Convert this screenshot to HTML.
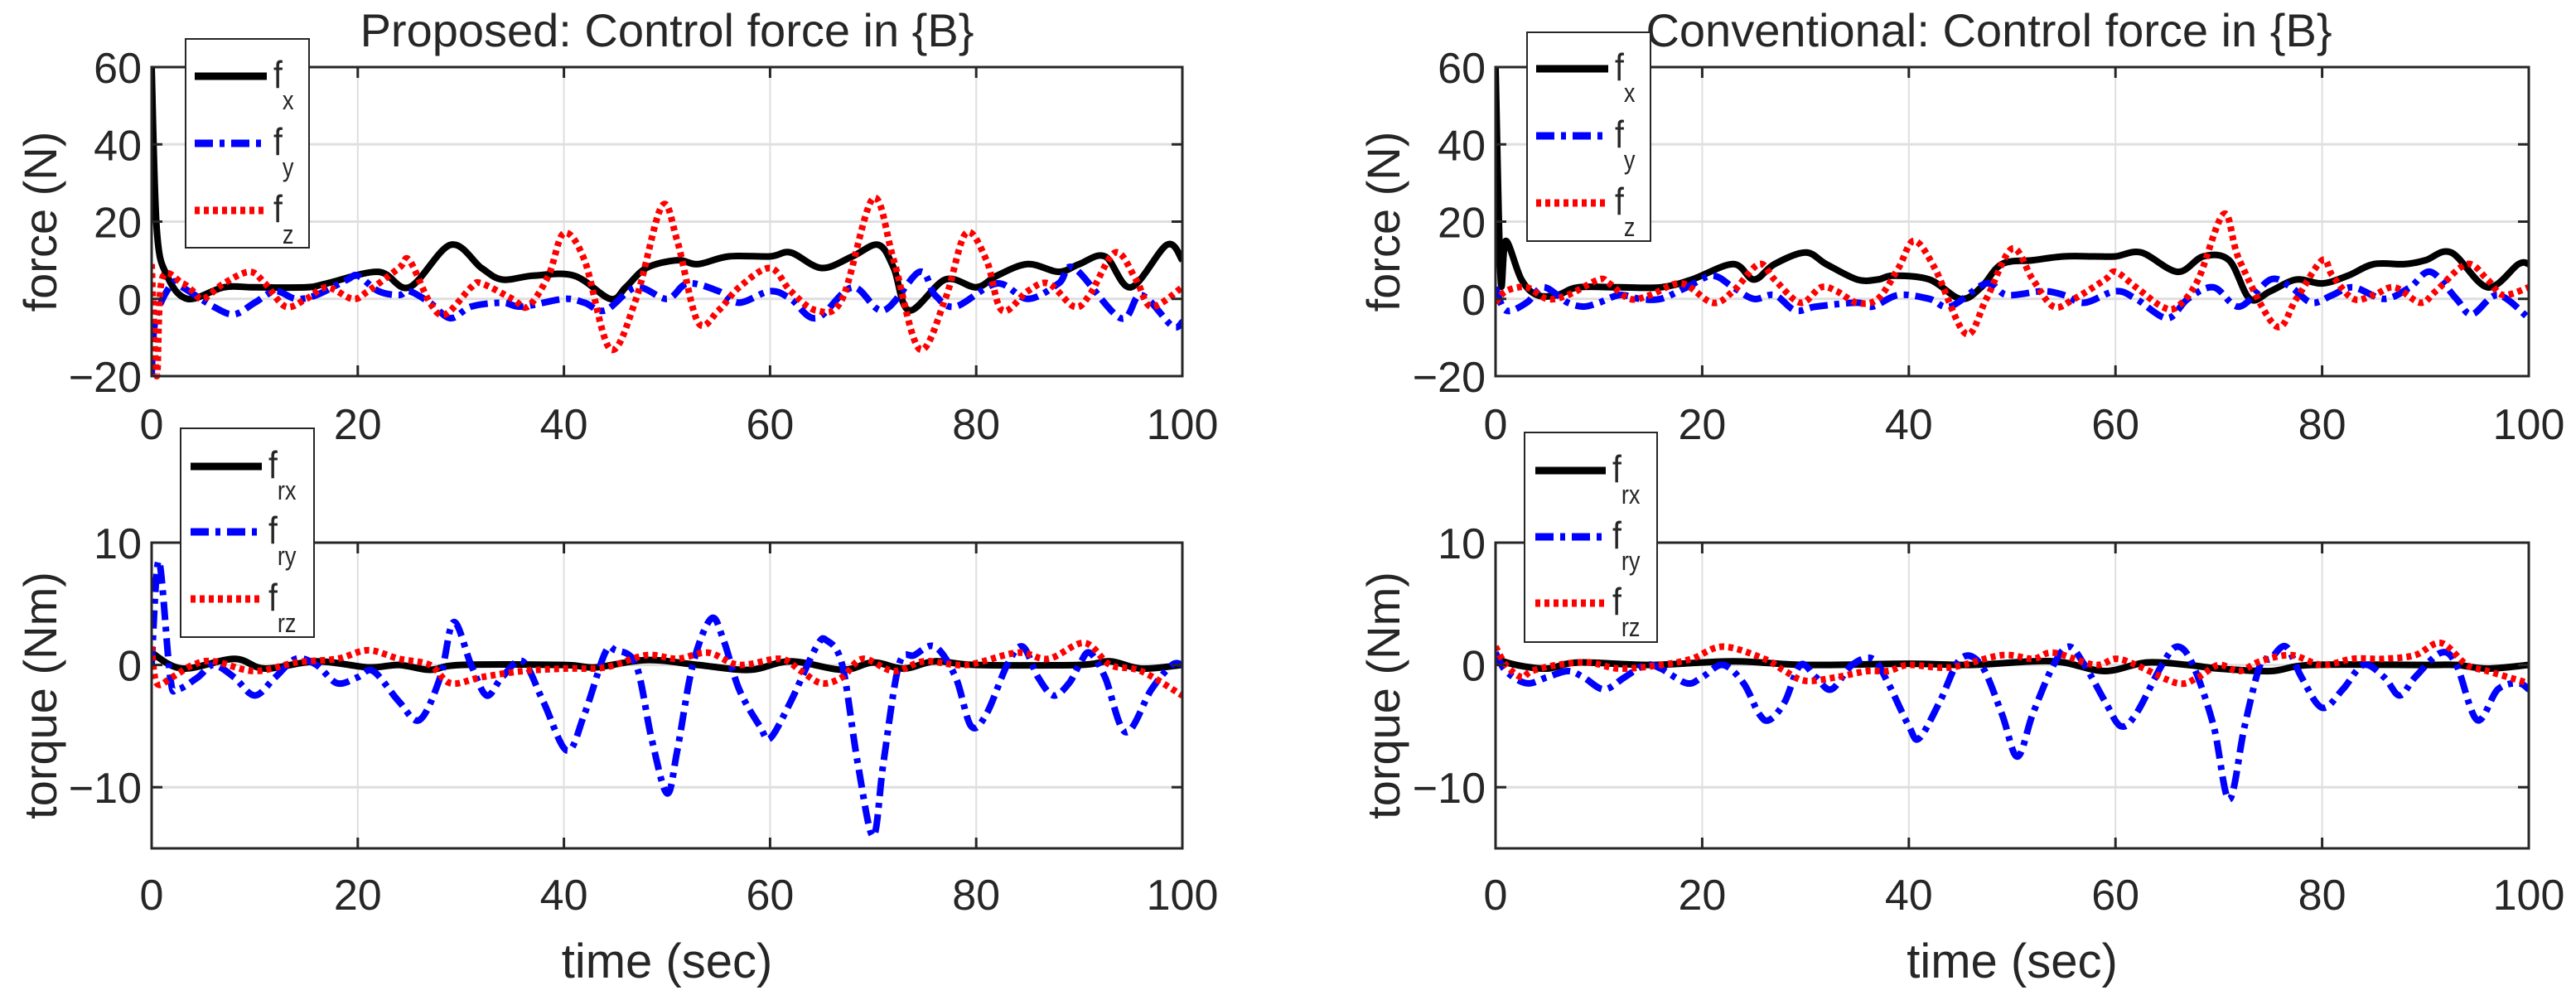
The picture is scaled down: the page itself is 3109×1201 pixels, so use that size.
<!DOCTYPE html>
<html><head><meta charset="utf-8"><style>
html,body{margin:0;padding:0;background:#fff;}
svg{display:block;}
text{font-family:"Liberation Sans",sans-serif;fill:#262626;}
</style></head><body>
<svg id="fig" width="3109" height="1201" viewBox="0 0 3109 1201" xmlns="http://www.w3.org/2000/svg"></svg>
<script>
// ---------- data (time in sec, value) ----------
const pFxT=[0,0.5,1.5,3.5,7,10,15,17,22,25,29,32,34,37,41,44.5,46,48,51,53,56,60,62,65,68,70.5,72,73.5,77,80,82,85,88,90,92.5,95,98.5,100];
const pFxV=[60,18,6,0,3,3,3,4,7,3,14,8,5,6,6,0,3,8,10,9,11,11,12,8,11,14,8,-3,5,3,6,9,7,9,11,3,14,10];
const pFyT=[0,0.4,2,3,6,8,10,12,14,16,19,20,22,24,25,27,29,31,34,36,40,42,44,47,50,52,55,57,60,62,64.5,68,71,74.5,76,78,82,85,88,89.5,94,96,99,100];
const pFyV=[-20,-5,4,3,-2,-4,-1,2,0,1,5,6,2,1,2,-1,-5,-2,-1,-2,0,-1,-3,3,0,4,2,-1,2,0,-5,3,-3,7,1,-2,4,0,4,8,-5,1,-7,-6];
const pFzT=[0,0.5,1,3,4,5,7,9.5,11,13,15,17,19.5,21,24,25,27,28.5,31,32,35,36.5,38.5,40,42,44.5,47,49.5,51,53,55,57,60,62,64.5,67,70,72,74.5,77,79,81,82.5,85,87,89.5,91,93.5,95.5,97,100];
const pFzV=[9,-20,5,4,2,0,4,7,4,-2,0,3,0,2,8,10,-1,-4,3,4,0,-2,6,17,10,-13,0,24,15,-6,-3,3,8,2,-3,0,26,10,-13,0,17,10,-3,2,4,-2,1,12,5,-2,3];
const pRxT=[0,3,8,11,16,21,24,27,30,40,43,48,53,58,62,67,70,73,76,80,90,93,96,100];
const pRxV=[1,-0.3,0.5,-0.3,0.3,-0.2,0,-0.4,0,0,-0.2,0.4,0,-0.4,0.3,-0.4,0.2,-0.3,0.3,0,0,0.3,-0.3,0];
const pRyT=[0,0.7,1.8,2.5,4.5,6,8,10,12,14,16,18,20,21.5,24,26,28,29.3,31,32.5,34,36,38,40.3,42,44,45,47,48.5,50,51,52.5,54.3,55.5,57,59,60,62,64.5,65.5,67,68.5,70,71,72.5,74,76,78,79.5,81,83,84.5,86,87.5,89,90,91,92.5,94.5,97,99,100];
const pRyV=[0,8.5,-1,-2,-1,0,-1,-2.5,-1,0.5,0,-1.5,-1,-0.5,-3,-4.5,-1,3.5,0,-2.5,-1,0.3,-3,-7,-4,1,1.2,0,-6,-10.5,-7,0,3.8,2,-2,-5,-6,-3,1.5,2,0,-8,-14,-8,0,0.8,1.5,-1,-5,-4,0,1.5,-1,-2.5,-1.5,0,1,-1,-5.5,-2,0,0];
const pRzT=[0,0.5,2,4,6,10,14,18,21,24,27,29,32,36,40,44,48,51,54,57,61,63,65,67,69,72,75,79,84,87,90.5,93,96,100];
const pRzV=[1.5,-1.5,-1,0,0.3,-0.5,0.2,0.5,1.2,0.5,0,-1.5,-1,-0.5,-0.3,-0.2,0.8,0.5,1,0,0.5,-0.5,-1.5,-1,0.5,-0.5,0.3,0,1,0.5,1.8,0,-0.5,-2.5];

const cFxT=[0,0.5,1,2.5,4,6,8,12,16,19,23,25,27,30,32,35,37,38.5,42,45,47,49,52,55,58,60,62.5,66,68.5,71,73,75,77.5,80,82.5,85,88,90,92.5,96,99,100];
const cFxV=[60,5,15,5,1,1,3,3,3,5,9,5,9,12,9,5,5,6,5,0,3,9,10,11,11,11,12,7,11,10,0,2,5,4,6,9,9,10,12,3,9,9];
const cFyT=[0,1,3,4.5,6,7,8.5,10,12,14,16,18.5,21,23,25,27,29,31,35,36.5,39,42,44,47.5,49.5,53,55,57,60,62,65,67,69.5,72,75,77,79,81,83,86,88.5,90.5,93,94.5,97,100];
const cFyV=[3,-3,-1,3,1,-1,-2,-1,1,0,0,3,6,3,0,1,-3,-2,-1,-2,1,0,-2,4,1,2,1,-1,2,0,-5,0,3,-2,5,3,-1,1,3,0,3,7,0,-4,1,-5];
const cFzT=[0,1,3,5,7,10,11,13,15,18,21,23,25.5,27,29.5,31.5,33,35,37,39,40.5,42.5,45.5,47.5,50,52,54,56,59,60,62,64.5,66,68,70.5,72,75.5,77.5,80,81,83,85,87,89.5,91,94,96,97.5,100];
const cFzV=[-1,2,3,0,1,5,4,0,1,4,-1,2,9,5,-1,3,2,-1,0,8,15,8,-9,0,13,5,-2,0,5,7,3,-2,-2,5,22,10,-7,0,10,6,0,1,3,-1,2,9,5,1,3];
const cRxT=[0,2,5,8,15,23,30,40,46,52,55,59,63,67,70,75,79,90,93,96,100];
const cRxV=[0.5,0,-0.3,0.2,0,0.3,0,0.1,0,0.3,0.2,-0.5,0.2,0,-0.3,-0.5,0,0,0,-0.3,0];
const cRyT=[0,1,3,5,7,8.5,10.5,12.5,14.5,16,18.5,20,22,24,25.5,26.5,28,29.5,31,32.5,34.5,36.5,38,40,41,43,45,47,49,50.5,52,54,55.5,57,59,60.5,62,64.5,66,67.5,69.5,71,72.5,74,75,76.5,78,80,82,84,86,87.5,89,91.5,93,95,97,99,100];
const cRyV=[1,-0.5,-1.5,-1,-0.5,-1,-2,-1,0,-0.3,-1.5,-1,0,-1.5,-4,-4.5,-3,0,-1,-2,0,0.5,-1.5,-5,-6,-3,0.5,0,-4,-7.5,-4,0,1.5,0,-3,-5,-4,0,1.5,0,-5,-11,-5,0,0.5,1.5,-1,-3.5,-2,0,-1,-2.5,-1,1,0,-4.5,-2,-1.5,-2];
const cRzT=[0,1,2.5,3.5,6,9,12,16,19,22,26,28,30,33,36,38,40,44,49,52,54,58,60,62,66,68,70,72,74,77,80,83,86,89,91.5,94,96,100];
const cRzV=[1.5,0,-1,-0.5,0,0.2,-0.3,0,0.5,1.5,0.5,-0.5,-1.3,-1,-0.5,-0.5,0,-0.2,0.8,0.5,1,0,0.5,0,-1.5,-1,0,-0.5,0.3,0.8,0,0.5,0.5,0.8,1.8,0,-0.5,-1.5];

const xTicks=[0,20,40,60,80,100];
const forceTicks=[60,40,20,0,-20];
const torqueTicks=[10,0,-10];

// ---------- rendering ----------
const NS="http://www.w3.org/2000/svg";
const svg=document.getElementById('fig');
function mk(tag,attrs,parent){const e=document.createElementNS(NS,tag);for(const k in attrs)e.setAttribute(k,attrs[k]);(parent||svg).appendChild(e);return e;}
function smoothPath(pts){
  let d="M"+pts[0][0].toFixed(1)+","+pts[0][1].toFixed(1);
  for(let i=0;i<pts.length-1;i++){
    const p0=pts[Math.max(0,i-1)],p1=pts[i],p2=pts[i+1],p3=pts[Math.min(pts.length-1,i+2)];
    const c1x=p1[0]+(p2[0]-p0[0])/6,c1y=p1[1]+(p2[1]-p0[1])/6;
    const c2x=p2[0]-(p3[0]-p1[0])/6,c2y=p2[1]-(p3[1]-p1[1])/6;
    d+=" C"+c1x.toFixed(1)+","+c1y.toFixed(1)+" "+c2x.toFixed(1)+","+c2y.toFixed(1)+" "+p2[0].toFixed(1)+","+p2[1].toFixed(1);
  }
  return d;
}
const styles={
  solid:{stroke:"#000",dash:null},
  dashdot:{stroke:"#0000ff",dash:"22,8,6,8"},
  dot:{stroke:"#ff0000",dash:"6,5"}
};
let clipId=0;
function panel(o){
  const g=mk('g',{});
  
  
  const L=o.x0,R=o.x1,T=o.y0,B=o.y1;
  const sx=t=>L+(t-0)/(100-0)*(R-L);
  const sy=v=>T+(o.ymax-v)/(o.ymax-o.ymin)*(B-T);
  xTicks.forEach(t=>{const l=mk('line',{x1:sx(t),x2:sx(t),y1:T,y2:B,stroke:"#dfdfdf","stroke-width":2},g);});
  o.yticks.forEach(v=>{const l=mk('line',{x1:L,x2:R,y1:sy(v),y2:sy(v),stroke:"#dfdfdf","stroke-width":3},g);});
  const cid="clip"+(clipId++);
  const cp=mk('clipPath',{id:cid},g);mk('rect',{x:L,y:T-6,width:R-L,height:B-T+12},cp);
  const sg=mk('g',{"clip-path":"url(#"+cid+")"},g);
  o.series.forEach(s=>{
    const pts=s.t.map((t,i)=>[sx(t),sy(s.v[i])]);
    const st=styles[s.style];
    const p=mk('path',{d:smoothPath(pts),fill:"none",stroke:st.stroke,"stroke-width":8,"stroke-linejoin":"round"},sg);
    if(st.dash)p.setAttribute('stroke-dasharray',st.dash);
    
    
  });
  const box=mk('rect',{x:L,y:T,width:R-L,height:B-T,fill:"none",stroke:"#262626","stroke-width":3},g);
  
  xTicks.forEach(t=>{
    mk('line',{x1:sx(t),x2:sx(t),y1:B,y2:B-13,stroke:"#262626","stroke-width":3},g);
    mk('line',{x1:sx(t),x2:sx(t),y1:T,y2:T+13,stroke:"#262626","stroke-width":3},g);
    const tx=mk('text',{x:sx(t),y:o.xlabY,"font-size":52,"text-anchor":"middle"},g);
    tx.textContent=String(t);
    
  });
  o.yticks.forEach(v=>{
    mk('line',{x1:L,x2:L+13,y1:sy(v),y2:sy(v),stroke:"#262626","stroke-width":3},g);
    mk('line',{x1:R,x2:R-13,y1:sy(v),y2:sy(v),stroke:"#262626","stroke-width":3},g);
    const tx=mk('text',{x:L-12,y:sy(v)+19,"font-size":52,"text-anchor":"end"},g);
    tx.textContent=v<0?"\u2212"+Math.abs(v):String(v);
    
  });
  const yl=mk('text',{x:0,y:0,"font-size":56,"text-anchor":"middle",transform:"translate("+o.ylabX+","+((T+B)/2)+") rotate(-90)"},g);
  yl.textContent=o.ylabel;
  
  if(o.title){
    const tt=mk('text',{x:0,y:0,"font-size":56,"text-anchor":"middle",transform:"translate("+((L+R)/2+o.titleDx)+",56)"},g);
    tt.textContent=o.title;
  }
  if(o.xlabel){
    const xl=mk('text',{x:0,y:0,"font-size":58,"text-anchor":"middle",transform:"translate("+((L+R)/2)+",1180)"},g);
    xl.textContent=o.xlabel;
  }
  const lg=mk('g',{},g);
  
  const lb=o.legend;
  mk('rect',{x:lb.x,y:lb.y,width:lb.w,height:lb.h,fill:"#fff",stroke:"#262626","stroke-width":2},lg);
  o.series.forEach((s,i)=>{
    const ey=lb.ey[i];
    const st=styles[s.style];
    const ln=mk('line',{x1:lb.lx0,x2:lb.lx1,y1:ey,y2:ey,stroke:st.stroke,"stroke-width":9},lg);
    if(st.dash)ln.setAttribute('stroke-dasharray',st.dash);
    const tx=mk('text',{x:lb.lx1+8,y:ey+14,"font-size":46},lg);
    tx.setAttribute('transform',"translate("+(lb.lx1+8)+",0) scale(0.85,1) translate("+(-(lb.lx1+8))+",0)");
    const f=mk('tspan',{},tx);f.textContent="f";
    const sb=mk('tspan',{dy:26,"font-size":32},tx);sb.textContent=s.sub;
    
  });
}
panel({name:'proposed-force-panel',x0:183,x1:1427,y0:81,y1:454,ymin:-20,ymax:60,yticks:forceTicks,xlabY:530,ylabX:68,ylabel:"force (N)",title:"Proposed: Control force in {B}",titleDx:0,
  legend:{x:224,y:47,w:149,h:252,lx0:235,lx1:322,ey:[92,173,254]},
  series:[{name:'fx-line',sub:'x',style:'solid',t:pFxT,v:pFxV},{name:'fy-line',sub:'y',style:'dashdot',t:pFyT,v:pFyV},{name:'fz-line',sub:'z',style:'dot',t:pFzT,v:pFzV}]});
panel({name:'proposed-torque-panel',x0:183,x1:1427,y0:655,y1:1024,ymin:-15,ymax:10,yticks:torqueTicks,xlabY:1098,ylabX:68,ylabel:"torque (Nm)",xlabel:"time (sec)",
  legend:{x:218,y:517,w:161,h:252,lx0:230,lx1:316,ey:[563,642,723]},
  series:[{name:'frx-line',sub:'rx',style:'solid',t:pRxT,v:pRxV},{name:'fry-line',sub:'ry',style:'dashdot',t:pRyT,v:pRyV},{name:'frz-line',sub:'rz',style:'dot',t:pRzT,v:pRzV}]});
panel({name:'conventional-force-panel',x0:1805,x1:3052,y0:81,y1:454,ymin:-20,ymax:60,yticks:forceTicks,xlabY:530,ylabX:1689,ylabel:"force (N)",title:"Conventional: Control force in {B}",titleDx:-28,
  legend:{x:1843,y:39,w:149,h:252,lx0:1854,lx1:1941,ey:[83,164,245]},
  series:[{name:'fx-line',sub:'x',style:'solid',t:cFxT,v:cFxV},{name:'fy-line',sub:'y',style:'dashdot',t:cFyT,v:cFyV},{name:'fz-line',sub:'z',style:'dot',t:cFzT,v:cFzV}]});
panel({name:'conventional-torque-panel',x0:1805,x1:3052,y0:655,y1:1024,ymin:-15,ymax:10,yticks:torqueTicks,xlabY:1098,ylabX:1689,ylabel:"torque (Nm)",xlabel:"time (sec)",
  legend:{x:1840,y:522,w:160,h:253,lx0:1853,lx1:1938,ey:[568,648,728]},
  series:[{name:'frx-line',sub:'rx',style:'solid',t:cRxT,v:cRxV},{name:'fry-line',sub:'ry',style:'dashdot',t:cRyT,v:cRyV},{name:'frz-line',sub:'rz',style:'dot',t:cRzT,v:cRzV}]});
</script>
</body></html>
